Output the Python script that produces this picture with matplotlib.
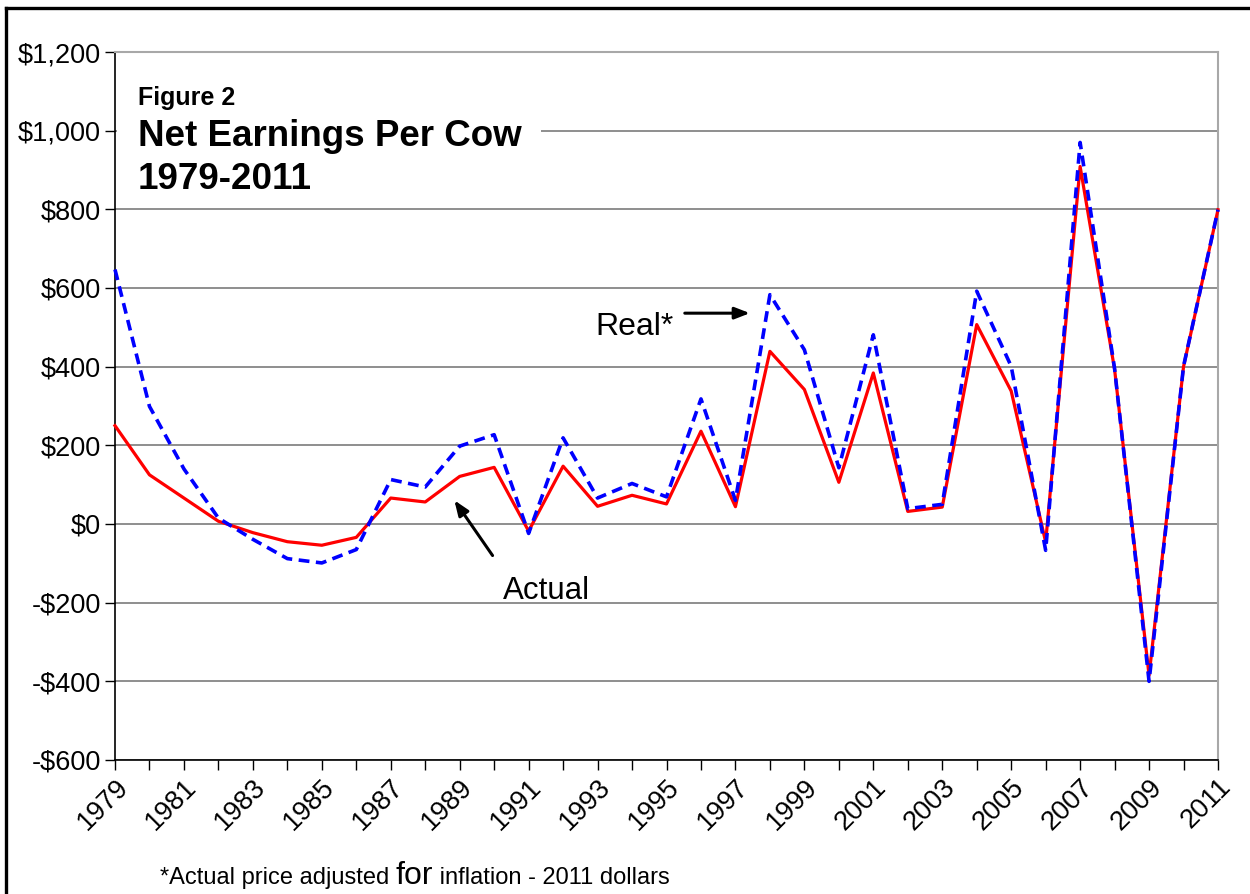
import matplotlib
matplotlib.use("Agg")
import matplotlib.pyplot as plt
from matplotlib.lines import Line2D
from matplotlib.patches import Rectangle
import matplotlib.ticker as mticker

plt.rcParams['font.family'] = ['Liberation Sans', 'DejaVu Sans']

years = list(range(1979, 2012))
actual = [250, 125, 66, 7, -22, -45, -54, -34, 66, 56, 121, 144, -18, 147, 45,
          73, 51, 236, 44, 439, 342, 106, 384, 32, 43, 507, 338, -46, 909, 393,
          -385, 400, 799]
real = [647, 299, 140, 15, -39, -88, -99, -65, 113, 94, 198, 227, -24, 219, 66,
        103, 69, 318, 60, 583, 443, 143, 481, 39, 50, 592, 401, -67, 970, 395,
        -400, 401, 799]
y_ticks = list(range(-600, 1201, 200))

W, H = 1250, 894
fig = plt.figure(figsize=(W / 100, H / 100), dpi=100)
ax = fig.add_axes([115 / W, 1 - 760 / H, (1218 - 115) / W, (760 - 52) / H])

ax.set_xlim(1979, 2011)
ax.set_ylim(-600, 1200)

ax.set_yticks(y_ticks)
ax.yaxis.set_major_formatter(mticker.FuncFormatter(
    lambda v, p: ('-$' if v < 0 else '$') + f"{abs(int(v)):,}"))
ax.set_xticks(years)
ax.set_xticklabels([str(y) if (y - 1979) % 2 == 0 else '' for y in years],
                   rotation=45, ha='right', rotation_mode='anchor')

ax.tick_params(axis='y', direction='out', length=7, width=1, labelsize=19.5,
               pad=3, colors='black')
ax.tick_params(axis='x', direction='out', length=7, width=1, labelsize=19.5,
               pad=3, colors='black')

ax.grid(axis='y', color='#707070', linewidth=1.1)
ax.set_axisbelow(True)
for s in ['top', 'right']:
    ax.spines[s].set_color('#a8a8a8')
    ax.spines[s].set_linewidth(1.5)
for s in ['left', 'bottom']:
    ax.spines[s].set_color('black')
    ax.spines[s].set_linewidth(1.2)

ax.plot(years, actual, color='#ff0000', linewidth=2.3, zorder=3, clip_on=False)
ax.plot(years, real, color='#0000ff', linewidth=2.6, linestyle=(0, (3, 1.8)),
        zorder=4, clip_on=False)

# white block holding the title
ax.add_patch(Rectangle((1979.05, 860), 12.3, 220, facecolor='white',
                       edgecolor='none', zorder=2))
ax.text(138 / W, 1 - 98 / H, 'Figure 2', transform=fig.transFigure,
        fontsize=18, fontweight='bold', va='center', ha='left')
ax.text(138 / W, 1 - 136 / H, 'Net Earnings Per Cow', transform=fig.transFigure,
        fontsize=26.5, fontweight='bold', va='center', ha='left')
ax.text(138 / W, 1 - 180 / H, '1979-2011', transform=fig.transFigure,
        fontsize=26.5, fontweight='bold', va='center', ha='left')

# series call-outs
ax.annotate('', xy=(1997.5, 536), xytext=(1995.45, 536),
            arrowprops=dict(arrowstyle='-|>,head_length=0.9,head_width=0.35',
                            color='black', lw=2.2))
ax.text(1995.2, 500, 'Real*', fontsize=23, ha='right', va='center')
ax.annotate('', xy=(1988.8, 66), xytext=(1990.0, -86),
            arrowprops=dict(arrowstyle='-|>,head_length=0.9,head_width=0.35',
                            color='black', lw=2.2))
ax.text(1990.25, -170, 'Actual', fontsize=22.5, ha='left', va='center')

# footnote with the enlarged "for"
renderer = fig.canvas.get_renderer()
x0 = 160 / W
yb = 1 - 884 / H
parts = [('*Actual price adjusted ', 17), ('for', 23), (' inflation - 2011 dollars', 17)]
for txt, fs in parts:
    t = fig.text(x0, yb, txt, fontsize=fs, ha='left', va='baseline')
    bb = t.get_window_extent(renderer=renderer)
    x0 = bb.x1 / W

# outer frame
fig.add_artist(Line2D([6 / W, 6 / W], [0, 1 - 8 / H], transform=fig.transFigure,
                      color='black', linewidth=2.4))
fig.add_artist(Line2D([6 / W, 1], [1 - 8 / H, 1 - 8 / H], transform=fig.transFigure,
                      color='black', linewidth=2.4))

fig.savefig('out.png', dpi=100)
